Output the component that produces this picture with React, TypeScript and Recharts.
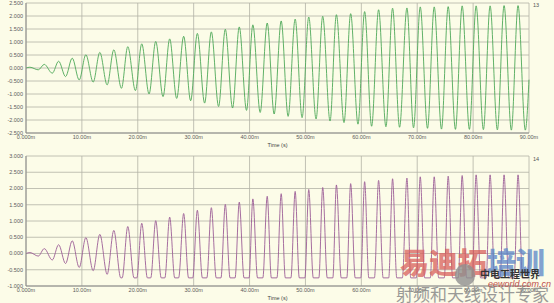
import React from 'react';
import { CartesianGrid, Line, LineChart, XAxis, YAxis } from 'recharts';

// extrema (time in ms)
const peakTimes = [
  0.7, 3.27, 5.84, 8.27, 10.71, 13.21, 15.71, 18.21, 20.71, 23.21, 25.71, 28.21,
  30.66, 33.16, 35.66, 38.16, 40.59, 43.16, 45.66, 48.16, 50.59, 53.09, 55.54, 58.09,
  60.59, 63.09, 65.59, 68.16, 70.54, 73.04, 75.54, 78.04, 80.54, 83.04, 85.54, 88.04,
];
const troughTimes = [
  2.2, 4.7, 7.08, 9.52, 12.02, 14.52, 17.08, 19.58, 22.02, 24.52, 26.96, 29.46,
  31.96, 34.46, 36.96, 39.46, 41.9, 44.4, 46.9, 49.4, 51.9, 54.4, 56.9, 59.4,
  61.84, 64.4, 66.84, 69.34, 71.84, 74.34, 76.84, 79.34, 81.84, 84.34, 86.84, 89.34,
];

const topPeaks = [
  0.03, 0.14, 0.26, 0.38, 0.51, 0.6, 0.7, 0.82, 0.93, 1.02, 1.12, 1.22,
  1.33, 1.39, 1.49, 1.58, 1.66, 1.73, 1.81, 1.88, 1.96, 1.99, 2.05, 2.09,
  2.17, 2.24, 2.3, 2.31, 2.35, 2.35, 2.36, 2.39, 2.39, 2.39, 2.4, 2.4,
];
const topTroughs = [
  -0.07, -0.2, -0.33, -0.46, -0.54, -0.65, -0.78, -0.87, -1.0, -1.1, -1.17, -1.26,
  -1.35, -1.48, -1.54, -1.63, -1.71, -1.77, -1.86, -1.91, -1.96, -2.04, -2.1, -2.16,
  -2.24, -2.26, -2.28, -2.3, -2.32, -2.35, -2.36, -2.36, -2.37, -2.38, -2.39, -2.39,
];
const topEnd = -0.45;

const bottomPeaks = [
  0.03, 0.15, 0.27, 0.39, 0.49, 0.59, 0.71, 0.83, 0.93, 1.01, 1.12, 1.23,
  1.33, 1.41, 1.51, 1.58, 1.68, 1.76, 1.84, 1.91, 1.97, 2.03, 2.11, 2.15,
  2.21, 2.25, 2.3, 2.32, 2.36, 2.36, 2.38, 2.4, 2.42, 2.42, 2.42, 2.42,
];
const bottomTroughs = [
  -0.08, -0.2, -0.31, -0.43, -0.53, -0.64, -0.75, -0.75, -0.75, -0.75, -0.75, -0.75,
  -0.75, -0.75, -0.75, -0.75, -0.75, -0.75, -0.75, -0.75, -0.75, -0.75, -0.75, -0.75,
  -0.75, -0.75, -0.75, -0.75, -0.75, -0.75, -0.75, -0.75, -0.75, -0.75, -0.75, -0.75,
];
// width (ms) of the clipped flat at each trough
const bottomFlat = [
  0, 0, 0, 0, 0, 0, 0.25, 0.5, 0.6, 0.65, 0.7, 0.75,
  0.8, 0.85, 0.9, 0.9, 0.95, 1.0, 1.0, 1.0, 1.0, 1.0, 1.0, 1.0,
  1.0, 1.0, 1.0, 1.0, 1.0, 1.0, 1.0, 1.0, 1.0, 1.0, 1.0, 1.0,
];
const bottomEnd = 0.0;

const xTicks = [0, 10, 20, 30, 40, 50, 60, 70, 80, 90];
const xTickLabels = ['0.000m', '10.00m', '20.00m', '30.00m', '40.00m', '50.00m', '60.00m', '70.00m', '80.00m', '90.00m'];
const xMinorTicks = Array.from({ length: 46 }, (_, i) => i * 2);

const topYTicks = [-2.5, -2, -1.5, -1, -0.5, 0, 0.5, 1, 1.5, 2, 2.5];
const topYLabels = ['-2.500', '-2.000', '-1.500', '-1.000', '-0.500', '0.000', '0.500', '1.000', '1.500', '2.000', '2.500'];
const bottomYTicks = [-1, -0.5, 0, 0.5, 1, 1.5, 2, 2.5, 3];
const bottomYLabels = ['-1.000', '-0.500', '0.000', '0.500', '1.000', '1.500', '2.000', '2.500', '3.000'];

const FONT = 'Liberation Sans, Arial, sans-serif';
const BG = '#fcfce8';

function buildTop() {
  const pts = [{ t: 0, v: 0 }];
  peakTimes.forEach((t, i) => {
    pts.push({ t, v: topPeaks[i] });
    pts.push({ t: troughTimes[i], v: topTroughs[i] });
  });
  pts.push({ t: 90, v: topEnd });
  return pts;
}

function buildBottom() {
  const pts = [{ t: 0, v: 0 }];
  peakTimes.forEach((t, i) => {
    pts.push({ t, v: bottomPeaks[i] });
    const w = bottomFlat[i];
    if (w > 0) {
      pts.push({ t: troughTimes[i] - w / 2, v: bottomTroughs[i] });
      pts.push({ t: troughTimes[i] + w / 2, v: bottomTroughs[i] });
    } else {
      pts.push({ t: troughTimes[i], v: bottomTroughs[i] });
    }
  });
  pts.push({ t: 90, v: bottomEnd });
  return pts;
}

function minorY(ticks: number[]) {
  const lo = ticks[0];
  const hi = ticks[ticks.length - 1];
  const out: number[] = [];
  for (let k = 0; lo + k * 0.1 <= hi + 1e-9; k++) out.push(+(lo + k * 0.1).toFixed(2));
  return out;
}

function Trace({
  data,
  color,
  height,
  top,
  yTicks,
  yLabels,
}: {
  data: { t: number; v: number }[];
  color: string;
  height: number;
  top: number;
  yTicks: number[];
  yLabels: string[];
}) {
  const dom: [number, number] = [yTicks[0], yTicks[yTicks.length - 1]];
  const tickStyle = { fontSize: 5.5, fill: '#5a5a5a', fontFamily: FONT };
  return (
    <LineChart width={554} height={height} data={data} margin={{ top, right: 25, bottom: 0, left: 0 }}>
      <CartesianGrid stroke="#b2b2a6" strokeWidth={0.8} />
      <XAxis
        xAxisId="minor"
        dataKey="t"
        type="number"
        domain={[0, 90]}
        ticks={xMinorTicks}
        height={0}
        mirror
        tick={false}
        tickSize={3}
        axisLine={false}
        tickLine={{ stroke: '#8c8c8c' }}
        interval={0}
      />
      <XAxis
        dataKey="t"
        type="number"
        domain={[0, 90]}
        ticks={xTicks}
        interval={0}
        tickFormatter={(v) => xTickLabels[xTicks.indexOf(v)]}
        tickLine={false}
        tickSize={0}
        tickMargin={2}
        height={17}
        axisLine={{ stroke: '#8c8c8c' }}
        tick={tickStyle}
        label={{ value: 'Time (s)', position: 'insideBottom', offset: 3, fontSize: 5.5, fill: '#444', fontFamily: FONT }}
      />
      <YAxis
        yAxisId="minor"
        type="number"
        domain={dom}
        ticks={minorY(yTicks)}
        width={0}
        mirror
        tick={false}
        tickSize={2.5}
        axisLine={false}
        tickLine={{ stroke: '#8c8c8c' }}
        interval={0}
      />
      <YAxis
        type="number"
        domain={dom}
        ticks={yTicks}
        interval={0}
        tickFormatter={(v) => yLabels[yTicks.indexOf(v)]}
        tickLine={false}
        tickSize={0}
        tickMargin={3}
        width={26}
        axisLine={{ stroke: '#8c8c8c' }}
        tick={tickStyle}
      />
      <Line
        dataKey="v"
        type="monotone"
        stroke={color}
        strokeWidth={0.9}
        dot={false}
        isAnimationActive={false}
      />
    </LineChart>
  );
}

export default function App() {
  const tag = { position: 'absolute' as const, left: 533, fontSize: 5.5, color: '#555', fontFamily: FONT };
  return (
    <div style={{ position: 'absolute', left: 0, top: 0, width: 554, height: 303, background: BG, overflow: 'hidden' }}>
      <div style={{ position: 'absolute', left: 0, top: 0 }}>
        <Trace data={buildTop()} color="#4ea858" height={150} top={3} yTicks={topYTicks} yLabels={topYLabels} />
      </div>
      <div style={{ position: 'absolute', left: 0, top: 150 }}>
        <Trace data={buildBottom()} color="#9c5e96" height={153} top={6} yTicks={bottomYTicks} yLabels={bottomYLabels} />
      </div>
      <div style={{ ...tag, top: 2 }}>13</div>
      <div style={{ ...tag, top: 156 }}>14</div>

      {/* watermark */}
      <div style={{ position: 'absolute', left: 400, top: 246, fontFamily: 'Noto Sans CJK SC', fontWeight: 900, fontSize: 29, lineHeight: '30px', whiteSpace: 'nowrap', opacity: 0.75 }}>
        <span style={{ color: '#d9605c' }}>易迪拓</span>
        <span style={{ color: '#5a84c8' }}>培训</span>
      </div>
      <div style={{ position: 'absolute', left: 455, top: 264, width: 20, height: 22, borderRadius: 10, background: '#8f8f8f', opacity: 0.8 }} />
      <div style={{ position: 'absolute', left: 480, top: 266, fontFamily: 'Noto Sans CJK SC', fontWeight: 700, fontSize: 10, color: '#333', whiteSpace: 'nowrap' }}>中电工程世界</div>
      <div style={{ position: 'absolute', left: 488, top: 279, fontFamily: FONT, fontStyle: 'italic', fontSize: 9, color: '#c0504d', whiteSpace: 'nowrap' }}>eeworld.com.cn</div>
      <div style={{ position: 'absolute', left: 396, top: 285, fontFamily: 'Noto Sans CJK SC', fontSize: 17, lineHeight: '18px', color: '#8a8a8a', whiteSpace: 'nowrap', opacity: 0.85 }}>射频和天线设计专家</div>
    </div>
  );
}
